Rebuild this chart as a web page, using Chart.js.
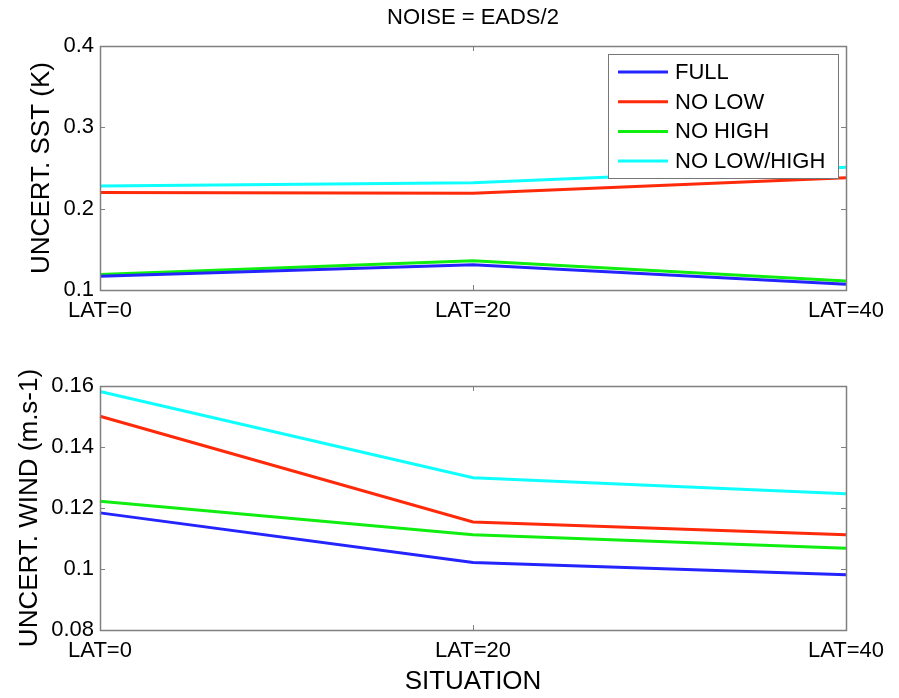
<!DOCTYPE html>
<html>
<head>
<meta charset="utf-8">
<script src="https://cdn.jsdelivr.net/npm/chart.js@4/dist/chart.umd.min.js"></script>
<style>
  html, body { margin: 0; padding: 0; background: #ffffff; }
  #wrap { position: relative; width: 899px; height: 698px; background: #fff; }
  .box { position: absolute; left: 0; width: 899px; }
  #b1 { top: 0; height: 340px; }
  #b2 { top: 340px; height: 358px; }
</style>
</head>
<body>
<div id="wrap">
  <div class="box" id="b1"><canvas id="c1" width="899" height="340"></canvas></div>
  <div class="box" id="b2"><canvas id="c2" width="899" height="358"></canvas></div>
</div>
<script>
const situations = ['LAT=0', 'LAT=20', 'LAT=40'];
const seriesNames = ['FULL', 'NO LOW', 'NO HIGH', 'NO LOW/HIGH'];
const seriesColors = ['#2424ff', '#ff2a0a', '#0fee0f', '#0fffff'];

// Top panel: SST uncertainty (K)
const sstFull      = [0.117, 0.131, 0.107];
const sstNoLow     = [0.220, 0.219, 0.238];
const sstNoHigh    = [0.119, 0.136, 0.111];
const sstNoLowHigh = [0.228, 0.232, 0.251];
const sstTicks = [0.1, 0.2, 0.3, 0.4];

// Bottom panel: wind uncertainty (m.s-1)
const windFull      = [0.1184, 0.1021, 0.0981];
const windNoLow     = [0.1501, 0.1154, 0.1112];
const windNoHigh    = [0.1222, 0.1112, 0.1068];
const windNoLowHigh = [0.1582, 0.1299, 0.1247];
const windTicks = [0.08, 0.10, 0.12, 0.14, 0.16];

Chart.defaults.font.family = '"Liberation Sans", Arial, Helvetica, sans-serif';
Chart.defaults.color = '#000';

const AXIS_GRAY = '#808080';

const framePlugin = {
  id: 'frame',
  afterDatasetsDraw(chart) {
    const {ctx, chartArea: a, scales} = chart;
    ctx.save();
    ctx.strokeStyle = AXIS_GRAY;
    ctx.lineWidth = 1;
    const tl = 5;
    ctx.beginPath();
    scales.y.ticks.forEach(t => {
      const y = Math.round(scales.y.getPixelForValue(t.value)) + 0.5;
      ctx.moveTo(a.left, y); ctx.lineTo(a.left + tl, y);
      ctx.moveTo(a.right, y); ctx.lineTo(a.right - tl, y);
    });
    situations.forEach((s, i) => {
      const x = Math.round(scales.x.getPixelForValue(i)) + 0.5;
      ctx.moveTo(x, a.top); ctx.lineTo(x, a.top + tl);
      ctx.moveTo(x, a.bottom); ctx.lineTo(x, a.bottom - tl);
    });
    ctx.stroke();
    ctx.lineWidth = 1.5;
    ctx.strokeRect(Math.round(a.left) + 0.5, Math.round(a.top) + 0.5,
                   Math.round(a.right - a.left), Math.round(a.bottom - a.top));
    ctx.restore();
  }
};

const titlePlugin = {
  id: 'topTitle',
  afterDraw(chart, args, opts) {
    if (!opts || !opts.text) return;
    const {ctx, chartArea: a} = chart;
    ctx.save();
    ctx.fillStyle = '#000';
    ctx.font = '22px "Liberation Sans", Arial, sans-serif';
    ctx.textAlign = 'center';
    ctx.textBaseline = 'middle';
    ctx.fillText(opts.text, (a.left + a.right) / 2, 18);
    ctx.restore();
  }
};

const boxLegendPlugin = {
  id: 'boxLegend',
  afterDatasetsDraw(chart, args, opts) {
    if (!opts || !opts.show) return;
    const {ctx, chartArea: a} = chart;
    const x0 = a.right - 238, y0 = a.top + 8, w = 230, h = 124;
    ctx.save();
    ctx.fillStyle = '#fff';
    ctx.fillRect(x0, y0, w, h);
    ctx.strokeStyle = '#777';
    ctx.lineWidth = 1;
    ctx.strokeRect(x0 + 0.5, y0 + 0.5, w, h);
    ctx.font = '22px "Liberation Sans", Arial, sans-serif';
    ctx.textBaseline = 'middle';
    ctx.textAlign = 'left';
    chart.data.datasets.forEach((ds, i) => {
      const y = y0 + 18 + i * 29.7;
      ctx.strokeStyle = ds.borderColor;
      ctx.lineWidth = 3;
      ctx.beginPath();
      ctx.moveTo(x0 + 10, y); ctx.lineTo(x0 + 60, y);
      ctx.stroke();
      ctx.fillStyle = '#000';
      ctx.fillText(ds.label, x0 + 67, y + 1);
    });
    ctx.restore();
  }
};

function makeDatasets(arrs) {
  return arrs.map((d, i) => ({
    label: seriesNames[i],
    data: d,
    borderColor: seriesColors[i],
    backgroundColor: seriesColors[i],
    borderWidth: 3,
    pointRadius: 0,
    tension: 0,
    fill: false
  }));
}

function makeChart(canvasId, arrs, yMin, yMax, ticksArr, yTitle, yTitlePad, xTitle, xAxisH, extra) {
  return new Chart(document.getElementById(canvasId), {
    type: 'line',
    data: { labels: situations, datasets: makeDatasets(arrs) },
    plugins: [framePlugin, titlePlugin, boxLegendPlugin],
    options: {
      responsive: false,
      animation: false,
      events: [],
      layout: { padding: { top: 46, right: 53, left: 0, bottom: 0 } },
      plugins: {
        legend: { display: false },
        tooltip: { enabled: false },
        topTitle: { text: extra.title || '' },
        boxLegend: { show: !!extra.legend }
      },
      scales: {
        x: {
          type: 'category',
          offset: false,
          grid: { display: false, drawTicks: false },
          border: { display: false },
          ticks: { font: { size: 22 }, padding: 8, maxRotation: 0, autoSkip: false },
          title: xTitle ? { display: true, text: xTitle, font: { size: 26 }, padding: { top: 0, bottom: 1 } } : { display: false },
          afterFit(s) { s.height = xAxisH; }
        },
        y: {
          min: yMin, max: yMax,
          grid: { display: false, drawTicks: false },
          border: { display: false },
          afterBuildTicks(s) { s.ticks = ticksArr.map(v => ({ value: v })); },
          ticks: {
            font: { size: 22 }, padding: 6,
            callback: v => String(+v.toFixed(2))
          },
          title: { display: true, text: yTitle, font: { size: 26 }, padding: { top: yTitlePad, bottom: 0 } },
          afterFit(s) { s.width = 100; }
        }
      }
    }
  });
}

makeChart('c1', [sstFull, sstNoLow, sstNoHigh, sstNoLowHigh], 0.1, 0.4, sstTicks,
          'UNCERT. SST (K)', 26, null, 50, { title: 'NOISE = EADS/2', legend: true });
makeChart('c2', [windFull, windNoLow, windNoHigh, windNoLowHigh], 0.08, 0.16, windTicks,
          'UNCERT. WIND (m.s-1)', 14, 'SITUATION', 68, {});
</script>
</body>
</html>
